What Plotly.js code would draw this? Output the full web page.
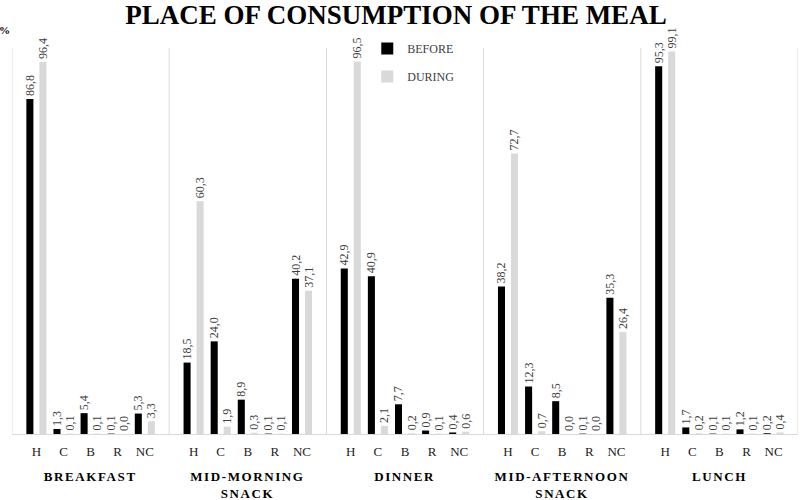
<!DOCTYPE html>
<html>
<head>
<meta charset="utf-8">
<script src="https://cdn.plot.ly/plotly-3.0.1.min.js"></script>
<style>
  html, body { margin: 0; padding: 0; background: #fff; }
  #chart { width: 800px; height: 500px; }
  .annotation-text.grp { letter-spacing: 1.6px; }
</style>
</head>
<body>
<div id="chart"></div>
<script>
// ---- data ----
const meals = ["BREAKFAST", "MID-MORNING<br>SNACK", "DINNER", "MID-AFTERNOON<br>SNACK", "LUNCH"];
const places = ["H", "C", "B", "R", "NC"];
const before_breakfast = [86.8, 1.3, 5.4, 0.1, 5.3];
const during_breakfast = [96.4, 0.1, 0.1, 0.0, 3.3];
const before_midmorning = [18.5, 24.0, 8.9, 0.1, 40.2];
const during_midmorning = [60.3, 1.9, 0.3, 0.1, 37.1];
const before_dinner = [42.9, 40.9, 7.7, 0.9, 0.4];
const during_dinner = [96.5, 2.1, 0.2, 0.1, 0.6];
const before_midafternoon = [38.2, 12.3, 8.5, 0.1, 35.3];
const during_midafternoon = [72.7, 0.7, 0.0, 0.0, 26.4];
const before_lunch = [95.3, 1.7, 0.1, 1.2, 0.2];
const during_lunch = [99.1, 0.2, 0.1, 0.1, 0.4];

// ---- build ----
const GROUP_SPAN = 5.8;
const beforeAll = [before_breakfast, before_midmorning, before_dinner, before_midafternoon, before_lunch];
const duringAll = [during_breakfast, during_midmorning, during_dinner, during_midafternoon, during_lunch];
const xs = [], bVals = [], dVals = [], tickText = [];
meals.forEach((m, g) => {
  places.forEach((p, s) => {
    xs.push(g * GROUP_SPAN + s);
    bVals.push(beforeAll[g][s]);
    dVals.push(duringAll[g][s]);
    tickText.push(p);
  });
});
const fmt = v => v.toFixed(1).replace('.', ',');

const serif = "Liberation Serif, Times New Roman, serif";
const labelFont = { family: serif, size: 12, color: "#404040" };

const traces = [
  {
    type: "bar", name: "BEFORE", x: xs, y: bVals,
    text: bVals.map(fmt), textposition: "outside", textangle: -90,
    textfont: labelFont, constraintext: "none", cliponaxis: false,
    marker: { color: "#000000" }, width: 0.26, offset: -0.37,
    legendgroup: "a", hoverinfo: "y"
  },
  {
    type: "bar", name: "DURING", x: xs, y: dVals,
    text: dVals.map(fmt), textposition: "outside", textangle: -90,
    textfont: labelFont, constraintext: "none", cliponaxis: false,
    marker: { color: "#d9d9d9" }, width: 0.26, offset: 0.11,
    legendgroup: "b", hoverinfo: "y"
  }
];

const xmin = -0.9, xmax = (meals.length - 1) * GROUP_SPAN + 4.9;
const shapes = [];
for (let g = 0; g <= meals.length; g++) {
  const xv = g < meals.length ? g * GROUP_SPAN - 0.9 : xmax;
  shapes.push({ type: "line", xref: "x", yref: "paper", x0: xv, x1: xv, y0: 0, y1: 1,
    line: { color: "#d9d9d9", width: 1 } });
}

const annotations = meals.map((m, g) => ({
  text: "<b>" + m + "</b>", xref: "x", yref: "paper", x: g * GROUP_SPAN + 2, y: 0,
  yanchor: "top", xanchor: "center", yshift: -33, showarrow: false,
  font: { family: serif, size: 13, color: "#000" }, align: "center",
  captureevents: false
}));
annotations.push({
  text: "<b>%</b>", xref: "paper", yref: "paper", x: 0, y: 1.047, xanchor: "right",
  yanchor: "middle", showarrow: false, font: { family: serif, size: 11, color: "#000" }
});

const layout = {
  width: 800, height: 500,
  margin: { l: 12, r: 2, t: 48, b: 66 },
  paper_bgcolor: "#fff", plot_bgcolor: "#fff",
  title: { text: "<b>PLACE OF CONSUMPTION OF THE MEAL</b>", x: 0.495, xanchor: "center",
    y: 0.971, yanchor: "middle", font: { family: serif, size: 27, color: "#000" } },
  barmode: "group",
  showlegend: true,
  legend: { x: 0.452, xanchor: "left", y: 1.036, yanchor: "top", bgcolor: "rgba(0,0,0,0)",
    traceorder: "grouped", tracegroupgap: 9, font: { family: serif, size: 12, color: "#404040" } },
  xaxis: { range: [xmin, xmax], tickvals: xs, ticktext: tickText, showgrid: false, zeroline: false,
    showline: true, linecolor: "#d9d9d9", linewidth: 1, ticks: "", ticklabelstandoff: 5,
    tickfont: { family: serif, size: 13, color: "#222" }, fixedrange: true },
  yaxis: { range: [0, 100], visible: false, fixedrange: true },
  shapes: shapes,
  annotations: annotations
};

Plotly.newPlot("chart", traces, layout, { displayModeBar: false, staticPlot: true }).then(() => {
  document.querySelectorAll(".annotation-text").forEach((el, i) => {
    if (i < meals.length) el.classList.add("grp");
  });
});
</script>
</body>
</html>
